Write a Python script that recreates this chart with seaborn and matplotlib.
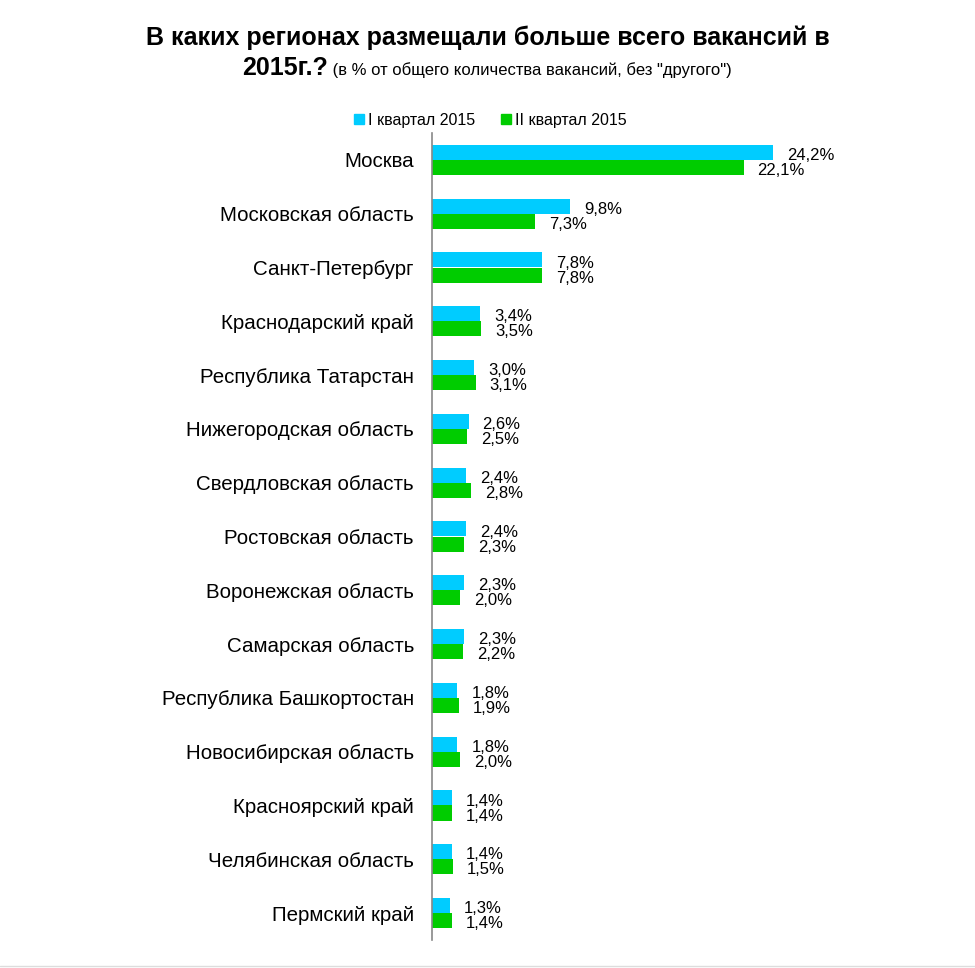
import matplotlib
matplotlib.use("Agg")
import matplotlib.pyplot as plt
import seaborn as sns
import pandas as pd
from matplotlib.lines import Line2D

regions = ["Москва", "Московская область", "Санкт-Петербург", "Краснодарский край",
           "Республика Татарстан", "Нижегородская область", "Свердловская область",
           "Ростовская область", "Воронежская область", "Самарская область",
           "Республика Башкортостан", "Новосибирская область", "Красноярский край",
           "Челябинская область", "Пермский край"]
q1 = [24.2, 9.8, 7.8, 3.4, 3.0, 2.6, 2.4, 2.4, 2.3, 2.3, 1.8, 1.8, 1.4, 1.4, 1.3]
q2 = [22.1, 7.3, 7.8, 3.5, 3.1, 2.5, 2.8, 2.3, 2.0, 2.2, 1.9, 2.0, 1.4, 1.5, 1.4]
series = ["I квартал 2015", "II квартал 2015"]
colors = ["#00CCFF", "#00CC00"]

df = pd.DataFrame({
    "region": regions * 2,
    "value": q1 + q2,
    "series": [series[0]] * len(regions) + [series[1]] * len(regions),
})

sns.set_theme(style="white")
plt.rcParams['font.family'] = ['Liberation Sans', 'DejaVu Sans']
plt.rcParams['text.color'] = '#000000'

fig = plt.figure(figsize=(9.75, 9.68), dpi=100)
ax = fig.add_axes([432/975, 1-940/968, 423/975, (940-133)/968])

sns.barplot(data=df, y="region", x="value", hue="series", order=regions,
            hue_order=series, palette=colors, width=0.56, orient="h",
            ax=ax, legend=False, saturation=1, gap=0, linewidth=0, edgecolor="none")

for cont, vals in zip(ax.containers, [q1, q2]):
    anns = ax.bar_label(cont, labels=[f"{v:.1f}".replace(".", ",") + "%" for v in vals],
                        padding=10, fontsize=12, color="#000000")
    for a in anns:
        a.xyann = (10, -2.2)

ax.set_xlim(0, 30)
ax.set_ylim(14.5, -0.5)
ax.set_xlabel("")
ax.set_ylabel("")
ax.set_xticks([])
ax.tick_params(axis="y", length=0, pad=13, labelsize=14.75)
for lab in ax.get_yticklabels():
    lab.set_color("#000000")
for s in ["top", "right", "bottom"]:
    ax.spines[s].set_visible(False)
ax.spines["left"].set_color("#888888")
ax.spines["left"].set_linewidth(1.2)

# Title
fig.text(488/975, 1-38/968, "В каких регионах размещали больше всего вакансий в",
         ha="center", va="center", fontsize=18, fontweight="bold", color="#000000")
fig.canvas.draw()
r = fig.canvas.get_renderer()
t1 = fig.text(0, 1-68/968, "2015г.?", ha="left", va="center", fontsize=18,
              fontweight="bold", color="#000000")
t2 = fig.text(0, 1-70/968, " (в % от общего количества вакансий, без \"другого\")",
              ha="left", va="center", fontsize=12, color="#000000")
w1 = t1.get_window_extent(r).width
w2 = t2.get_window_extent(r).width
start = 487 - (w1 + w2) / 2
t1.set_x(start / 975)
t2.set_x((start + w1) / 975)

handles = [Line2D([], [], marker="s", linestyle="", markersize=7, color=c) for c in colors]
leg = fig.legend(handles, series, loc="center", bbox_to_anchor=(490/975, 1-120/968), ncol=2,
                 frameon=False, fontsize=11.5, handlelength=0.7, handletextpad=0.2,
                 columnspacing=1.6)
for t in leg.get_texts():
    t.set_color("#000000")

fig.add_artist(Line2D([0, 1], [1-966/968, 1-966/968], color="#dddddd", linewidth=1))

fig.savefig("out.png", dpi=100)
